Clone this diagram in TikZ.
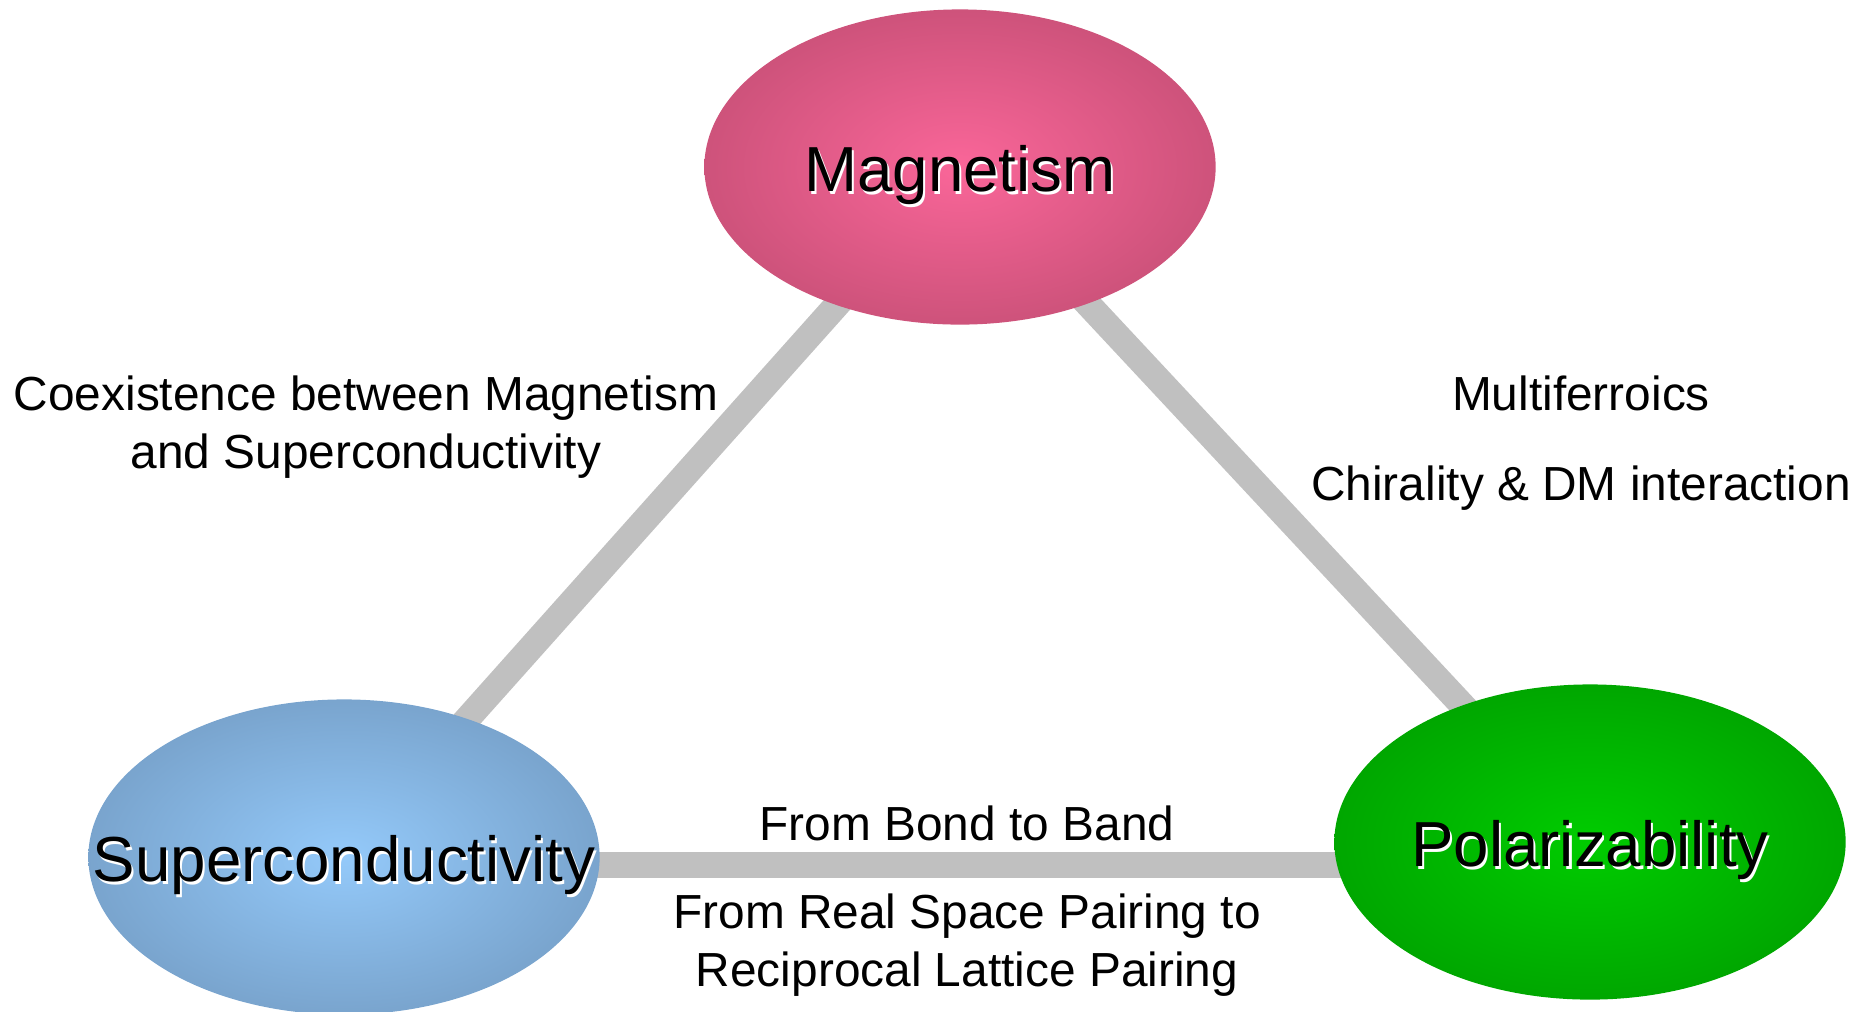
\documentclass[tikz,border=0pt]{standalone}
\usepackage{fontspec}
\setmainfont{Liberation Sans}
\usepackage{xcolor}
\usetikzlibrary{shapes.geometric,positioning,calc,backgrounds}

\definecolor{linkgray}{RGB}{192,192,192}
\pgfdeclareradialshading{magshade}{\pgfpoint{0bp}{0bp}}{%
  rgb(0bp)=(0.98,0.40,0.60); rgb(36bp)=(0.73,0.29,0.43); rgb(75bp)=(0.73,0.29,0.43)}
\pgfdeclareradialshading{supshade}{\pgfpoint{0bp}{0bp}}{%
  rgb(0bp)=(0.58,0.79,0.98); rgb(36bp)=(0.43,0.58,0.73); rgb(75bp)=(0.43,0.58,0.73)}
\pgfdeclareradialshading{polshade}{\pgfpoint{0bp}{0bp}}{%
  rgb(0bp)=(0.00,0.80,0.00); rgb(36bp)=(0.00,0.59,0.00); rgb(75bp)=(0.00,0.59,0.00)}

\newcommand{\halotext}[1]{\makebox[0pt]{\makebox[0pt][l]{\kern0.6pt\raisebox{-0.6pt}{\color{white}#1}}#1}}

\begin{document}
\begin{tikzpicture}[x=0.01cm, y=-0.01cm,
  topic/.style={ellipse, minimum width=5.11cm, minimum height=3.15cm,
                inner sep=0pt, shade, font=\fontsize{18.1}{21}\selectfont,
                text height=16pt, text depth=1.8pt},
  link/.style={draw=linkgray, line width=7.4pt},
  note/.style={font=\fontsize{13.6}{16.5}\selectfont, align=center},
]
  \useasboundingbox (0,0) rectangle (1870,1011);

  % Topics (three ellipses)
  \node[topic, shading=magshade] (mag) at (960,167) {\halotext{Magnetism}};
  \node[topic, shading=supshade] (sup) at (344,857) {\halotext{Superconductivity}};
  \node[topic, shading=polshade] (pol) at (1590,842) {\halotext{Polarizability}};

  % Links behind the topics
  \coordinate (bondrow) at (0,865);
  \begin{scope}[on background layer]
    \draw[link] (mag.center) -- (sup.center);
    \draw[link] (mag.center) -- (pol.center);
    \draw[link] (sup |- bondrow) -- (pol |- bondrow);
  \end{scope}

  % Link notes
  \node[note] (coexnote) at (366,427) {Coexistence between Magnetism\\and Superconductivity};
  \node[note] (multinote) at (1581,443) {Multiferroics\\[9.1pt]Chirality \& DM interaction};
  \node[note] (bondnote) at (967,823) {From Bond to Band};
  \node[note] (pairnote) at (967,945) {From Real Space Pairing to\\Reciprocal Lattice Pairing};

\end{tikzpicture}
\end{document}
